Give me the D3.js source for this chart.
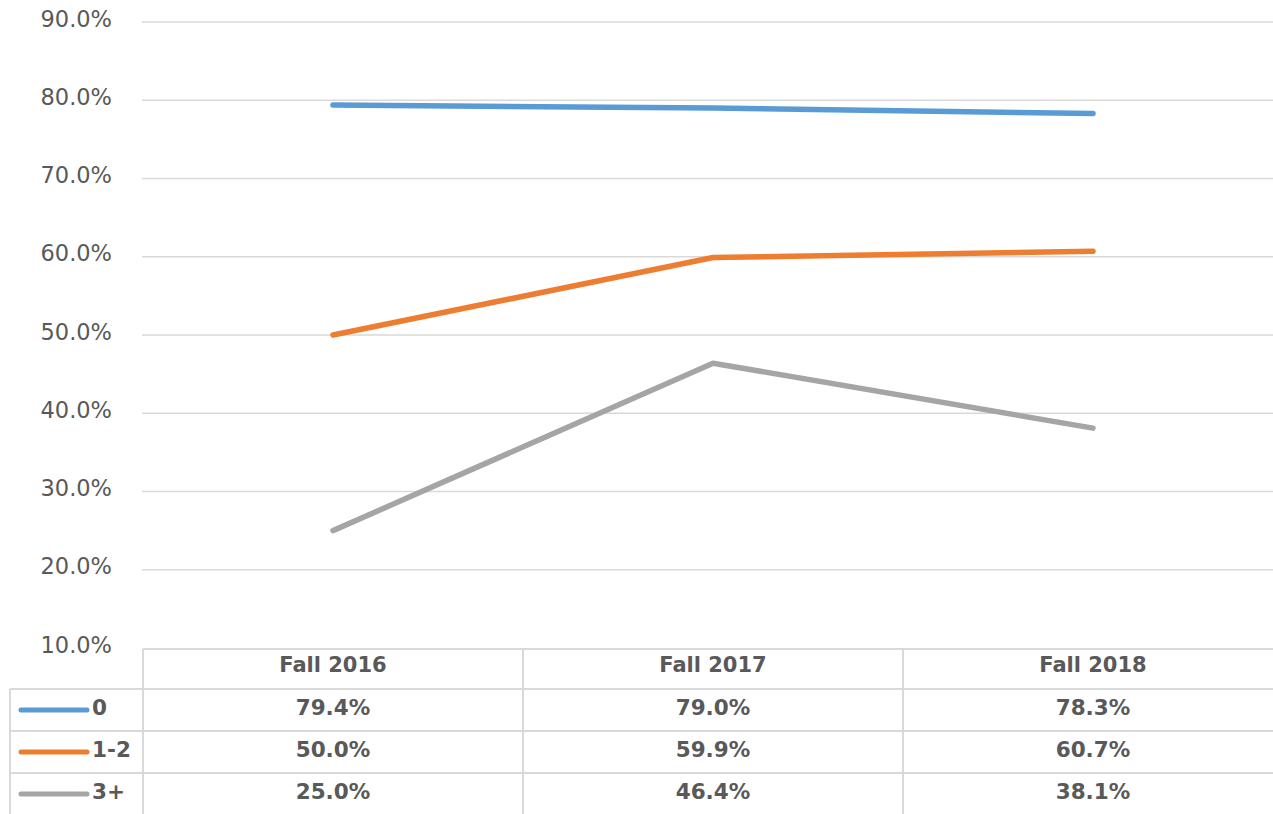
<!DOCTYPE html>
<html>
<head>
<meta charset="utf-8">
<script src="https://cdn.jsdelivr.net/npm/d3@7"></script>
<style>
  body { margin: 0; background: #fff; }
  text { font-family: "DejaVu Sans", Verdana, sans-serif; fill: #595959; }
</style>
</head>
<body>
<svg id="target"></svg>
<script>
const categories = ["Fall 2016", "Fall 2017", "Fall 2018"];
const seriesNames = ["0", "1-2", "3+"];
const values0 = [79.4, 79.0, 78.3];
const values12 = [50.0, 59.9, 60.7];
const values3 = [25.0, 46.4, 38.1];
const yTicks = [10, 20, 30, 40, 50, 60, 70, 80, 90];

const width = 1273;
const height = 814;
const colors = ["#5b9bd5", "#ed7d31", "#a5a5a5"];
const grid = "#d9d9d9";

const series = seriesNames.map((name, i) => ({
  name: name,
  color: colors[i],
  values: [values0, values12, values3][i]
}));

const svg = d3.select("#target")
  .attr("width", width)
  .attr("height", height);

const x = d3.scaleBand()
  .domain(categories)
  .range([143, 1283]);

const y = d3.scaleLinear()
  .domain([10, 90])
  .range([648, 22]);

// gridlines + y labels
svg.selectAll(".grid")
  .data(yTicks.filter(d => d > 10))
  .enter().append("line")
    .attr("x1", 142).attr("x2", width)
    .attr("y1", d => y(d)).attr("y2", d => y(d))
    .attr("stroke", grid).attr("stroke-width", 1.5);

svg.selectAll(".ylab")
  .data(yTicks)
  .enter().append("text")
    .attr("x", 112)
    .attr("y", d => y(d) - 2)
    .attr("text-anchor", "end")
    .attr("dominant-baseline", "middle")
    .attr("font-size", 22.5)
    .text(d => d.toFixed(1) + "%");

// lines
const line = d3.line()
  .x((d, i) => x(categories[i]) + x.bandwidth() / 2)
  .y(d => y(d));

svg.selectAll(".series")
  .data(series)
  .enter().append("path")
    .attr("d", d => line(d.values))
    .attr("fill", "none")
    .attr("stroke", d => d.color)
    .attr("stroke-width", 5.5)
    .attr("stroke-linecap", "round")
    .attr("stroke-linejoin", "round");

// data table
const headTop = 649, headBottom = 689, rowH = 42;
const rowY = i => headBottom + i * rowH;
const tbl = svg.append("g")
  .attr("stroke", grid).attr("stroke-width", 2);

tbl.append("line")
  .attr("x1", 143).attr("x2", width)
  .attr("y1", headTop).attr("y2", headTop);
[0, 1, 2].forEach(i => {
  tbl.append("line")
    .attr("x1", 10).attr("x2", width)
    .attr("y1", rowY(i)).attr("y2", rowY(i));
});
tbl.append("line")
  .attr("x1", 10).attr("x2", 10)
  .attr("y1", headBottom).attr("y2", height);
categories.forEach(c => {
  tbl.append("line")
    .attr("x1", x(c)).attr("x2", x(c))
    .attr("y1", headTop).attr("y2", height);
});

svg.selectAll(".head")
  .data(categories)
  .enter().append("text")
    .attr("x", d => x(d) + x.bandwidth() / 2)
    .attr("y", (headTop + headBottom) / 2 - 3)
    .attr("text-anchor", "middle")
    .attr("dominant-baseline", "middle")
    .attr("font-size", 21)
    .attr("font-weight", "bold")
    .text(d => d);

const rows = svg.selectAll(".row")
  .data(series)
  .enter().append("g")
    .attr("transform", (d, i) => "translate(0," + (rowY(i) + rowH / 2) + ")");

rows.append("line")
  .attr("x1", 21).attr("x2", 87)
  .attr("stroke", d => d.color)
  .attr("stroke-width", 5)
  .attr("stroke-linecap", "round");

rows.append("text")
  .attr("x", 92)
  .attr("y", -1)
  .attr("dominant-baseline", "middle")
  .attr("font-size", 21.5)
  .attr("font-weight", "bold")
  .text(d => d.name);

rows.selectAll(".val")
  .data(d => d.values)
  .enter().append("text")
    .attr("x", (d, i) => x(categories[i]) + x.bandwidth() / 2)
    .attr("y", -1)
    .attr("text-anchor", "middle")
    .attr("dominant-baseline", "middle")
    .attr("font-size", 21.5)
    .attr("font-weight", "bold")
    .text(d => d.toFixed(1) + "%");
</script>
</body>
</html>
